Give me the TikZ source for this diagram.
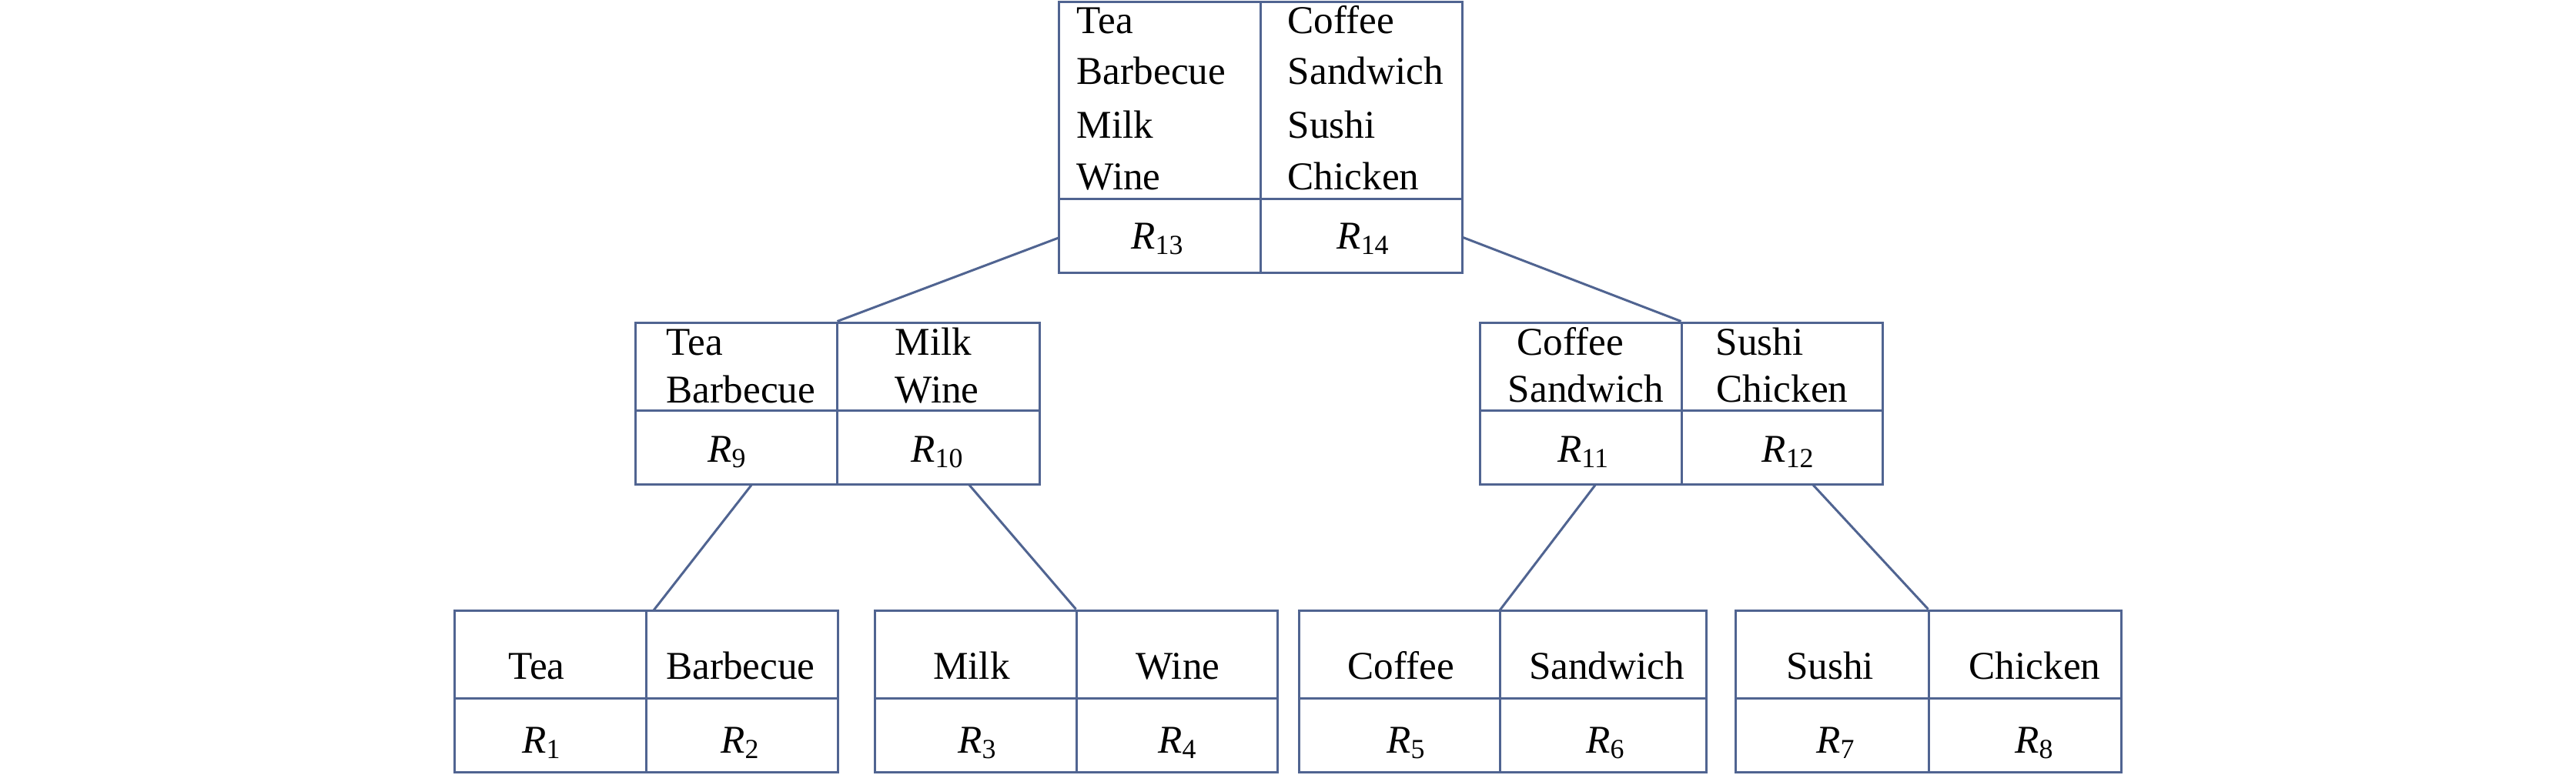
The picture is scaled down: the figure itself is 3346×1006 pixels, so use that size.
\documentclass[tikz,border=0pt]{standalone}
\usepackage{fontspec}
\setmainfont{Liberation Serif}
\definecolor{lc}{RGB}{80,100,145}
\newcommand{\Rsub}[1]{{\itshape R}\textsubscript{#1}}
\begin{document}
\begin{tikzpicture}[x=0.25pt,y=-0.25pt,
  box/.style={draw=lc,line width=0.75pt,rectangle,inner sep=0pt},
  ln/.style={draw=lc,line width=0.75pt},
  lbl/.style={font=\fontsize{12.8pt}{16pt}\selectfont,inner sep=0pt,text=black},
  lw/.style={lbl,anchor=base west},
  lc/.style={lbl,anchor=base}]
\useasboundingbox (0,0) rectangle (3346,1006);
% boxes
\node[box,minimum width=131pt,minimum height=88pt] (top) at (1637,178) {};
\node[box,minimum width=131.25pt,minimum height=52.5pt] (ml) at (1087.5,524) {};
\node[box,minimum width=130.75pt,minimum height=52.5pt] (mr) at (2183.5,524) {};
\node[box,minimum width=124.5pt,minimum height=52.5pt] (b1) at (839,898) {};
\node[box,minimum width=130.75pt,minimum height=52.5pt] (b2) at (1397.5,898) {};
\node[box,minimum width=132.25pt,minimum height=52.5pt] (b3) at (1951.5,898) {};
\node[box,minimum width=125.25pt,minimum height=52.5pt] (b4) at (2504.5,898) {};
% dividers
\draw[ln] (1637,2) -- (1637,354) (1375,258) -- (1899,258);
\draw[ln] (1087,419) -- (1087,629) (825,533) -- (1350,533);
\draw[ln] (2184,419) -- (2184,629) (1922,533) -- (2445,533);
\draw[ln] (839,793) -- (839,1003) (590,907) -- (1088,907);
\draw[ln] (1398,793) -- (1398,1003) (1136,907) -- (1659,907);
\draw[ln] (1948,793) -- (1948,1003) (1687,907) -- (2216,907);
\draw[ln] (2505,793) -- (2505,1003) (2254,907) -- (2755,907);
% connector ends
\coordinate (tl) at (1375,309);
\coordinate (tr) at (1899,308);
\coordinate (mlA) at (977,629);
\coordinate (mlB) at (1258,629);
\coordinate (mrA) at (2073,629);
\coordinate (mrB) at (2354,629);
\coordinate (b1t) at (849,793);
\coordinate (b3t) at (1948,793);
\draw[ln] (tl) -- (ml.north);
\draw[ln] (tr) -- (mr.north);
\draw[ln] (mlA) -- (b1t);
\draw[ln] (mlB) -- (b2.north);
\draw[ln] (mrA) -- (b3t);
\draw[ln] (mrB) -- (b4.north);
% top texts
\node[lw] (tt1) at (1398,43) {Tea};
\node[lw] (tt2) at (1398,109) {Barbecue};
\node[lw] (tt3) at (1398,179) {Milk};
\node[lw] (tt4) at (1398,246) {Wine};
\node[lw] (tt5) at (1672,43) {Coffee};
\node[lw] (tt6) at (1672,109) {Sandwich};
\node[lw] (tt7) at (1672,179) {Sushi};
\node[lw] (tt8) at (1672,246) {Chicken};
\node[lc] (r13) at (1504,323) {\Rsub{13}};
\node[lc] (r14) at (1771,323) {\Rsub{14}};
% middle left
\node[lw] (ml1) at (865,461) {Tea};
\node[lw] (ml2) at (865,523) {Barbecue};
\node[lw] (ml3) at (1162,461) {Milk};
\node[lw] (ml4) at (1162,523) {Wine};
\node[lc] (r9) at (945,600) {\Rsub{9}};
\node[lc] (r10) at (1218,600) {\Rsub{10}};
% middle right
\node[lw] (mr1) at (1970,461) {Coffee};
\node[lw] (mr2) at (1958,522) {Sandwich};
\node[lw] (mr3) at (2228,461) {Sushi};
\node[lw] (mr4) at (2229,522) {Chicken};
\node[lc] (r11) at (2057,600) {\Rsub{11}};
\node[lc] (r12) at (2323,600) {\Rsub{12}};
% bottom
\node[lc] (bt1) at (697,882) {Tea};
\node[lc] (bt2) at (962,882) {Barbecue};
\node[lc] (bt3) at (1262,882) {Milk};
\node[lc] (bt4) at (1530,882) {Wine};
\node[lc] (bt5) at (1820,882) {Coffee};
\node[lc] (bt6) at (2087,882) {Sandwich};
\node[lc] (bt7) at (2377,882) {Sushi};
\node[lc] (bt8) at (2643,882) {Chicken};
\node[lc] (r1) at (704,978) {\Rsub{1}};
\node[lc] (r2) at (962,978) {\Rsub{2}};
\node[lc] (r3) at (1270,978) {\Rsub{3}};
\node[lc] (r4) at (1530,978) {\Rsub{4}};
\node[lc] (r5) at (1827,978) {\Rsub{5}};
\node[lc] (r6) at (2086,978) {\Rsub{6}};
\node[lc] (r7) at (2385,978) {\Rsub{7}};
\node[lc] (r8) at (2643,978) {\Rsub{8}};
\end{tikzpicture}
\end{document}
